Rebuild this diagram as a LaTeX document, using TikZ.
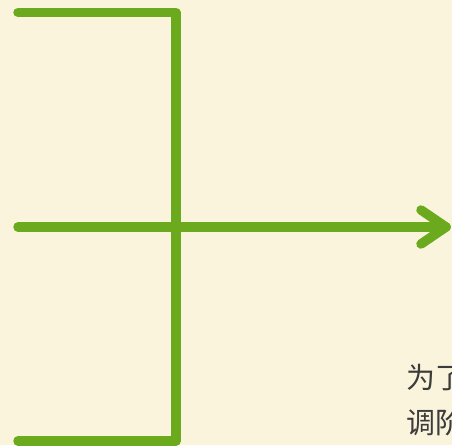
\documentclass[tikz,border=0pt]{standalone}
\usepackage{fontspec}
\newfontfamily\cjk{Noto Sans CJK SC}
\usepackage{tikz}
\usetikzlibrary{positioning}
\definecolor{leaf}{RGB}{106,170,28}
\definecolor{paper}{RGB}{250,244,220}
\definecolor{ink}{RGB}{60,60,60}

\begin{document}
\begin{tikzpicture}[x=1pt,y=-1pt]
	\fill[paper] (0,0) rectangle (452,445);
	\useasboundingbox (0,0) rectangle (452,445);
	\clip (0,0) rectangle (452,445);
	
	\tikzset{bar/.style={leaf,line width=9.5pt,line cap=round,line join=round}}
	
	\coordinate [] (TL) at (18,12.5);
	\coordinate [] (TR) at (176,12.5);
	\coordinate [] (BR) at (176,441);
	\coordinate [] (BL) at (18,441);
	\coordinate [] (ML) at (18,227);
	\coordinate [] (Tip) at (446,227);
	\coordinate [] (UpArm) at (421,210);
	\coordinate [] (LoArm) at (421,244);
	
	\draw[bar] (TL)--(TR)--(BR)--(BL);
	\draw[bar] (ML)--(Tip);
	\draw[bar] (UpArm)--(Tip)--(LoArm);
	
	\node [anchor=north west,inner sep=0pt,text=ink,font=\cjk\fontsize{29pt}{45pt}\selectfont,align=left] (note) at (406,364) {为了\\调阶};
	
\end{tikzpicture}
\end{document}
